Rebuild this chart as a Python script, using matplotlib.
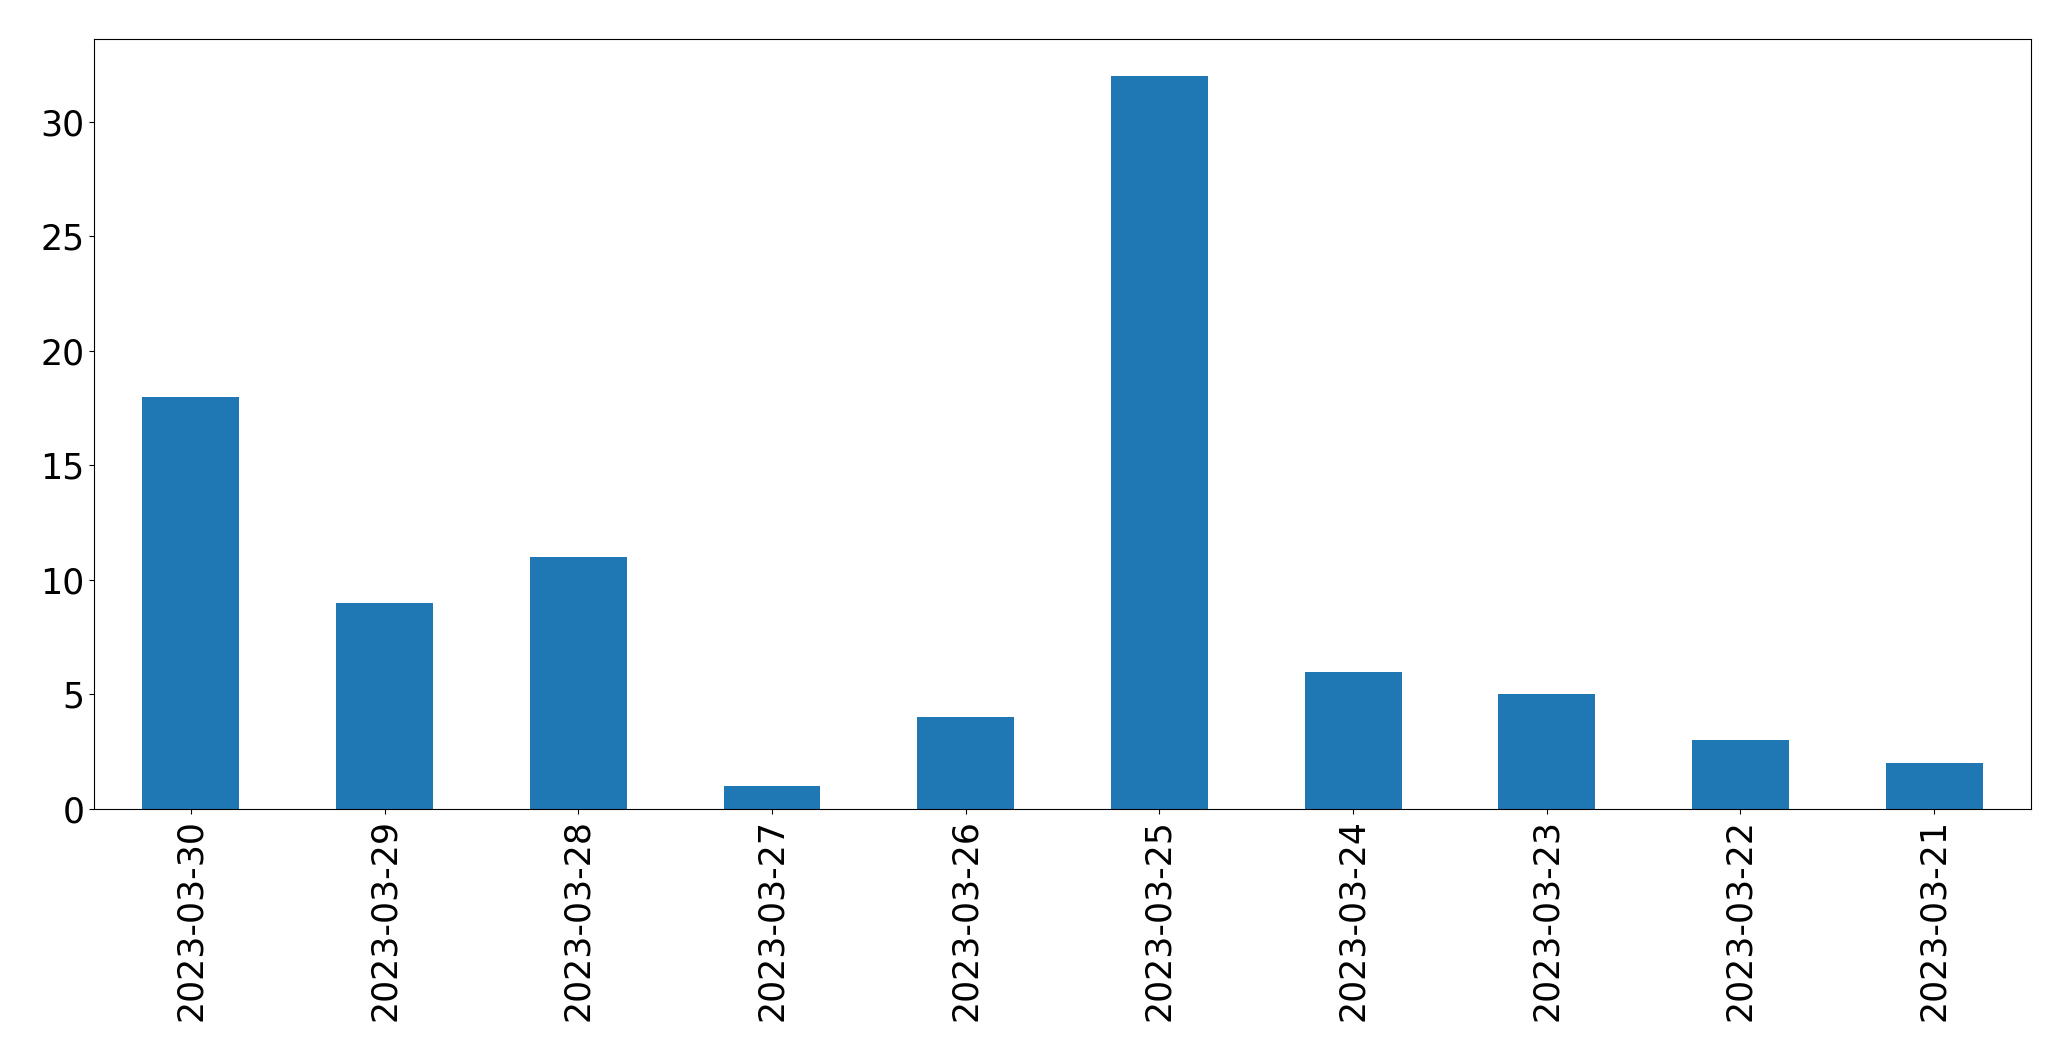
import matplotlib
matplotlib.use('Agg')
import matplotlib.pyplot as plt
import numpy as np

dates = ['2023-03-30', '2023-03-29', '2023-03-28', '2023-03-27', '2023-03-26',
         '2023-03-25', '2023-03-24', '2023-03-23', '2023-03-22', '2023-03-21']
counts = [18, 9, 11, 1, 4, 32, 6, 5, 3, 2]

fig, ax = plt.subplots(figsize=(20.71, 10.61), dpi=100)
fig.subplots_adjust(left=0.0454, right=0.9807, top=0.9632, bottom=0.2375)

x = np.arange(len(dates))
ax.bar(x, counts, width=0.5, color='#1f77b4')
ax.set_xlim(-0.5, len(dates) - 0.5)
ax.set_ylim(0, max(counts) * 1.05)
ax.set_xticks(x)
ax.set_xticklabels(dates, rotation=90)
ax.tick_params(labelsize=25)

plt.savefig('out.png')
